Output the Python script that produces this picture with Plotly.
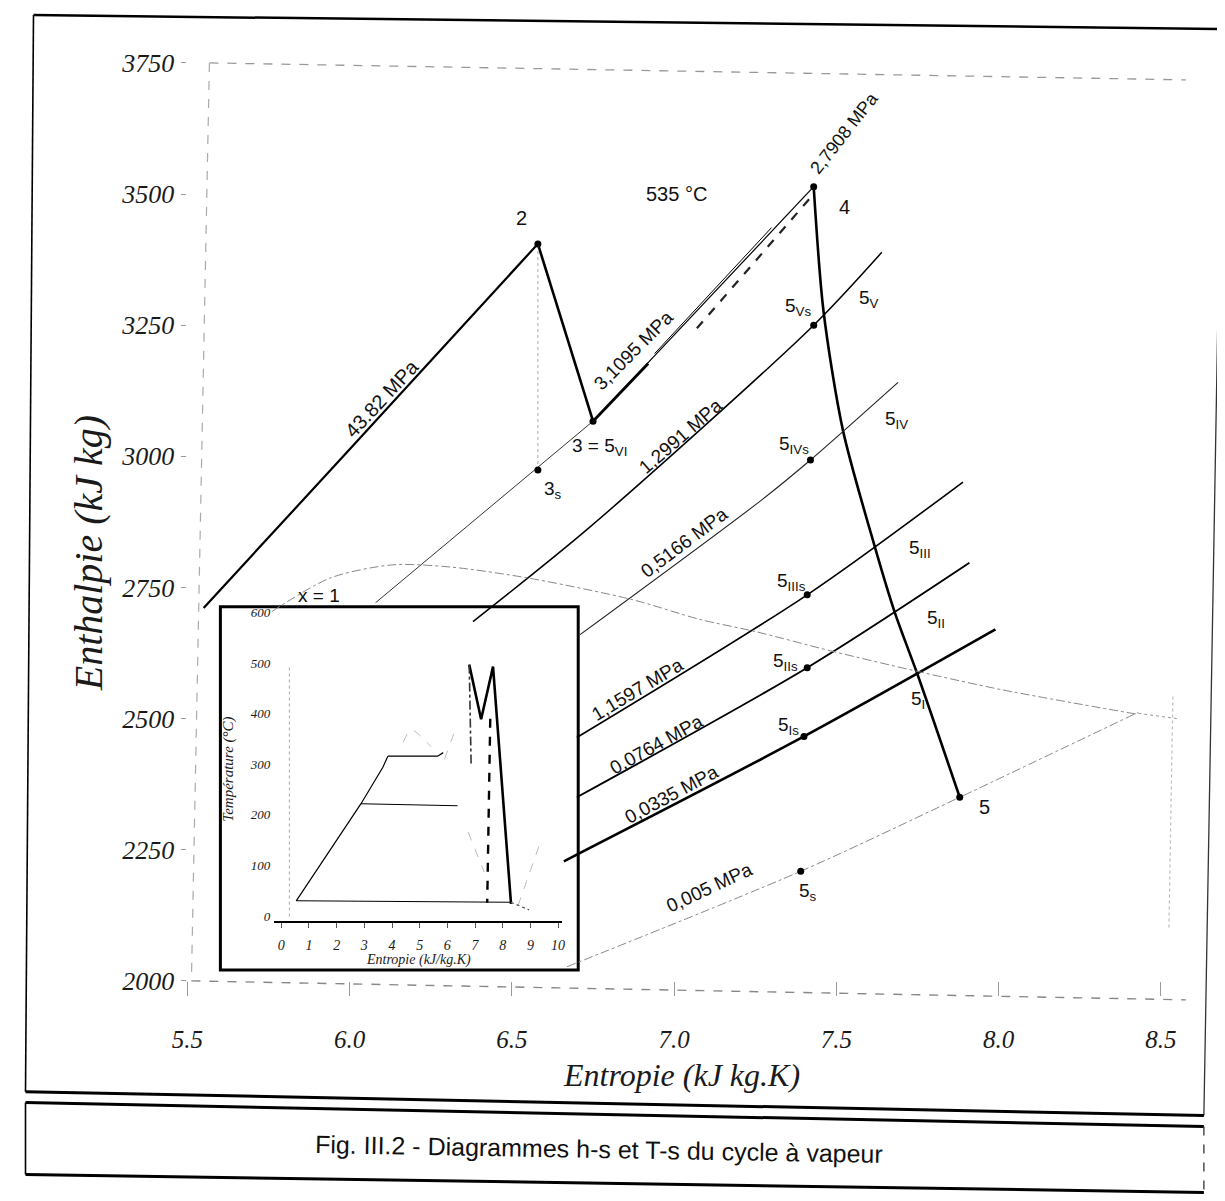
import plotly.graph_objects as go

W, H = 1225, 1201

# ---------------- main h-s diagram data (s: kJ/kg.K, h: kJ/kg) ----------------
state_labels = ["2", "3", "4", "5"]
state_s = [6.58, 6.75, 7.43, 7.88]
state_h = [3405, 3067, 3514, 2350]

s3s_s = [6.58]
s3s_h = [2974]

iso_pts_s = [7.43, 7.42, 7.41, 7.41, 7.40, 7.39]
iso_pts_h = [3250, 2993, 2736, 2597, 2466, 2209]

p4382_s = [5.55, 6.01, 6.58]
p4382_h = [2711, 3020, 3405]

p31095_ext_s = [6.08, 6.75]
p31095_ext_h = [2721, 3067]
p31095_thick_s = [6.75, 6.92]
p31095_thick_h = [3067, 3177]
p31095_par_s = [6.94, 7.30]
p31095_par_h = [3196, 3436]
p31095_dash_s = [7.07, 7.42]
p31095_dash_h = [3244, 3493]

exp_s = [7.43, 7.46, 7.52, 7.62, 7.68, 7.75, 7.88]
exp_h = [3514, 3278, 3050, 2824, 2702, 2584, 2350]

p12991_s = [6.38, 6.74, 7.43, 7.64]
p12991_h = [2685, 2865, 3250, 3389]
p05166_s = [6.71, 7.27, 7.42, 7.69]
p05166_h = [2660, 2917, 2993, 3141]
p11597_s = [6.70, 7.41, 7.89]
p11597_h = [2464, 2736, 2951]
p00764_s = [6.70, 7.41, 7.91]
p00764_h = [2350, 2597, 2797]
p00335_s = [6.66, 7.40, 7.99]
p00335_h = [2228, 2466, 2670]
p0005_s = [6.67, 7.39, 7.88, 8.43]
p0005_h = [2027, 2209, 2350, 2512]
p0005_tail_s = [8.43, 8.55]
p0005_tail_h = [2510, 2500]

sat_s = [5.76, 5.94, 6.13, 6.31, 6.55, 6.87, 7.08, 7.25, 7.49, 7.75, 8.01, 8.43]
sat_h = [2704, 2768, 2793, 2789, 2768, 2727, 2689, 2666, 2628, 2590, 2555, 2508]

h_ticks = [2000, 2250, 2500, 2750, 3000, 3250, 3500, 3750]
s_ticks = [5.5, 6.0, 6.5, 7.0, 7.5, 8.0, 8.5]
s_ticktext = ["5.5", "6.0", "6.5", "7.0", "7.5", "8.0", "8.5"]

# ---------------- inset T-s diagram data (s: kJ/kg.K, T: °C) ----------------
ts_liq_s = [0.54, 2.88, 3.67, 3.85]
ts_liq_T = [30, 222, 294, 316]
ts_h316_s = [3.85, 5.65, 5.85]
ts_h316_T = [316, 316, 323]
ts_h221_s = [2.88, 6.37]
ts_h221_T = [222, 218]
ts_cond_s = [0.54, 8.30]
ts_cond_T = [30, 27]
ts_cycle_s = [6.79, 7.22, 7.65, 8.30]
ts_cycle_T = [497, 389, 493, 24]
ts_isen1_s = [6.79, 6.86]
ts_isen1_T = [497, 296]
ts_isen2_s = [7.55, 7.44]
ts_isen2_T = [390, 26]
ts_tail_s = [8.30, 8.95]
ts_tail_T = [27, 12]
ts_faint_a_s = [4.4, 4.7, 5.4]
ts_faint_a_T = [343, 368, 335]
ts_faint_b_s = [5.9, 6.25]
ts_faint_b_T = [310, 363]
ts_faint_c_s = [6.75, 7.33]
ts_faint_c_T = [166, 87]
ts_faint_d_s = [8.55, 9.4]
ts_faint_d_T = [20, 152]

T_ticks = [0, 100, 200, 300, 400, 500, 600]
ts_sticks = list(range(0, 11))

# ---------------- figure ----------------
fig = go.Figure()


def line(xs, ys, width=1.2, color="black", dash="solid", shape="linear", axes=("x", "y")):
    fig.add_trace(go.Scatter(x=xs, y=ys, mode="lines", xaxis=axes[0], yaxis=axes[1],
                             line=dict(color=color, width=width, dash=dash, shape=shape,
                                       smoothing=0.8),
                             hoverinfo="skip"))


# main diagram lines
line(p4382_s, p4382_h, 2.2, shape="spline")
line(state_s[0:2], state_h[0:2], 2.6)
line(state_s[1:3], state_h[1:3], 1.2)
line(p31095_thick_s, p31095_thick_h, 2.8)
line(p31095_par_s, p31095_par_h, 1.0)
line(p31095_dash_s, p31095_dash_h, 2.2, color="#222", dash="dash")
line(p31095_ext_s, p31095_ext_h, 1.0, color="#333")
line(exp_s, exp_h, 2.6, shape="spline")
line(p12991_s, p12991_h, 1.5, shape="spline")
line(p05166_s, p05166_h, 1.1, color="#222", shape="spline")
line(p11597_s, p11597_h, 1.6, shape="spline")
line(p00764_s, p00764_h, 1.9, shape="spline")
line(p00335_s, p00335_h, 2.6, shape="spline")
line(p0005_s, p0005_h, 1.0, color="#888", dash="dashdot", shape="spline")
line(p0005_tail_s, p0005_tail_h, 1.0, color="#999", dash="dot")
line(sat_s, sat_h, 1.0, color="#888", dash="dashdot", shape="spline")
line([s3s_s[0], state_s[0]], [s3s_h[0], state_h[0]], 1.0, color="#aaa", dash="dot")

fig.add_trace(go.Scatter(x=state_s + s3s_s + iso_pts_s, y=state_h + s3s_h + iso_pts_h,
                         mode="markers", marker=dict(color="black", size=7),
                         hoverinfo="skip"))

# inset lines
ax2 = ("x2", "y2")
line(ts_faint_a_s, ts_faint_a_T, 0.8, color="#aaa", dash="dash", shape="spline", axes=ax2)
line(ts_faint_b_s, ts_faint_b_T, 0.8, color="#aaa", dash="dash", axes=ax2)
line(ts_faint_c_s, ts_faint_c_T, 0.8, color="#aaa", dash="dash", axes=ax2)
line(ts_faint_d_s, ts_faint_d_T, 0.8, color="#aaa", dash="dash", axes=ax2)
line(ts_liq_s, ts_liq_T, 1.2, axes=ax2)
line(ts_h316_s, ts_h316_T, 1.2, axes=ax2)
line(ts_h221_s, ts_h221_T, 1.1, axes=ax2)
line(ts_cond_s, ts_cond_T, 1.1, axes=ax2)
line(ts_cycle_s, ts_cycle_T, 2.6, axes=ax2)
line(ts_isen1_s, ts_isen1_T, 1.6, color="#333", dash="dashdot", axes=ax2)
line(ts_isen2_s, ts_isen2_T, 2.4, dash="dash", axes=ax2)
line(ts_tail_s, ts_tail_T, 1.2, color="#555", dash="dot", axes=ax2)

# ---------------- geometry (target pixels -> paper, calibrated on the render) ----------------
OX, SX = 22.5, 0.985
OY, SY = 21.0, 0.978


def PX(px):
    return (px - OX) / (SX * W)


def PY(py):
    return 1 - (py - OY) / (SY * H)


serif_it = dict(family="Liberation Serif, Times New Roman, serif", style="italic", color="#1a1a1a")

fig.update_layout(
    width=W, height=H, margin=dict(l=0, r=0, t=0, b=0),
    paper_bgcolor="white", plot_bgcolor="rgba(0,0,0,0)", showlegend=False,
    xaxis=dict(domain=[PX(186), PX(1185)], range=[5.5, 8.577], tickvals=s_ticks,
               ticktext=s_ticktext, showgrid=False, zeroline=False, showline=False,
               ticks="outside", ticklen=14, tickcolor="#999", tickwidth=1,
               ticklabelstandoff=22, tickfont=dict(size=25, **serif_it)),
    yaxis=dict(domain=[PY(982), PY(62)], range=[2000, 3750], tickvals=h_ticks,
               showgrid=False, zeroline=False, showline=False,
               ticks="outside", ticklen=5, tickcolor="#999", ticklabelstandoff=2,
               tickfont=dict(size=26, **serif_it)),
    xaxis2=dict(domain=[PX(273), PX(561)], range=[-0.25, 10.15], anchor="y2",
                tickvals=ts_sticks, showgrid=False, zeroline=False,
                showline=True, linecolor="black", linewidth=2,
                ticks="outside", ticklen=5, tickcolor="#555", ticklabelstandoff=5,
                tickfont=dict(size=14, **serif_it)),
    yaxis2=dict(domain=[PY(922), PY(602.7)], range=[-10, 620], anchor="x2",
                tickvals=T_ticks, showgrid=False, zeroline=False, showline=False,
                ticks="", ticklabelstandoff=3, tickfont=dict(size=13, **serif_it)),
)


# ---------------- shapes (frames) ----------------
def seg(x0, y0, x1, y1, color="black", width=1.5, dash="solid", layer="above"):
    fig.add_shape(type="line", xref="paper", yref="paper", x0=PX(x0), y0=PY(y0),
                  x1=PX(x1), y1=PY(y1), line=dict(color=color, width=width, dash=dash),
                  layer=layer)


# inset white box
fig.add_shape(type="rect", xref="paper", yref="paper", x0=PX(219), x1=PX(577),
              y0=PY(971), y1=PY(607), line=dict(color="black", width=3),
              fillcolor="white", layer="below")
seg(288, 668, 288, 918, color="#aaa", width=1, dash="dot")

# main plot frame (dashed, slightly skewed as in the scan)
seg(208, 62, 1185, 79, color="#999", width=1.3, dash="dash")
seg(208, 62, 190, 982, color="#aaa", width=1.2, dash="dash")
seg(190, 982, 1185, 1001, color="#888", width=1.4, dash="dash")
seg(1172, 697, 1168, 930, color="#bbb", width=1.2, dash="dot")

# outer page frame
seg(32, 14, 1222, 28, width=2.5)
seg(32, 14, 24, 1093, width=1.6)
seg(1222, 28, 1203, 1117, color="#333", width=1.3)
seg(24, 1093, 1203, 1117, width=3)
# caption box
seg(24, 1104, 1203, 1128, width=3)
seg(24, 1176, 1203, 1194, width=3)
seg(24, 1104, 24, 1176, width=1.6)
seg(1203, 1128, 1203, 1194, color="#333", width=1.3, dash="dash")

# ---------------- annotations ----------------
sans = "Liberation Sans, Arial, sans-serif"


def ann(text, px, py, size=19, angle=0, font=None):
    f = dict(family=sans, size=size, color="#111") if font is None else dict(size=size, **font)
    fig.add_annotation(text=text, x=PX(px), y=PY(py), xref="paper", yref="paper",
                       showarrow=False, textangle=angle, font=f,
                       xanchor="center", yanchor="middle")


ann("Enthalpie (kJ kg)", 87, 553, 40, -90, serif_it)
ann("Entropie (kJ kg.K)", 680, 1076, 32, 0, serif_it)
ann("Fig. III.2 - Diagrammes h-s et T-s du cycle à vapeur", 598, 1150, 25, 1)

ann("Température (°C)", 227, 770, 15, -90, serif_it)
ann("Entropie (kJ/kg.K)", 417, 961, 14, 0, serif_it)

ann("2", 520, 217, 20)
ann("535 °C", 675, 193, 20)
ann("2,7908 MPa", 843, 132, 18, -52)
ann("4", 843, 206, 20)
ann("43.82 MPa", 381, 398, 20, -47)
ann("3,1095 MPa", 632, 350, 19, -45)
ann("3 = 5<sub>VI</sub>", 598, 447, 19)
ann("3<sub>s</sub>", 552, 490, 19)
ann("1,2991 MPa", 679, 436, 19, -41)
ann("0,5166 MPa", 683, 543, 19, -37)
ann("x = 1", 318, 596, 19)
ann("1,1597 MPa", 636, 690, 19, -31)
ann("0,0764 MPa", 655, 745, 19, -29)
ann("0,0335 MPa", 670, 795, 19, -28)
ann("0,005 MPa", 708, 888, 19, -25)

ann("5<sub>V</sub>", 868, 299, 19)
ann("5<sub>IV</sub>", 895, 420, 19)
ann("5<sub>III</sub>", 919, 549, 19)
ann("5<sub>II</sub>", 935, 619, 19)
ann("5<sub>I</sub>", 917, 700, 19)
ann("5", 983, 808, 20)

ann("5<sub>Vs</sub>", 797, 307, 19)
ann("5<sub>IVs</sub>", 793, 445, 19)
ann("5<sub>IIIs</sub>", 790, 582, 19)
ann("5<sub>IIs</sub>", 784, 662, 19)
ann("5<sub>Is</sub>", 787, 727, 19)
ann("5<sub>s</sub>", 807, 893, 19)

fig.write_html("out.html")
